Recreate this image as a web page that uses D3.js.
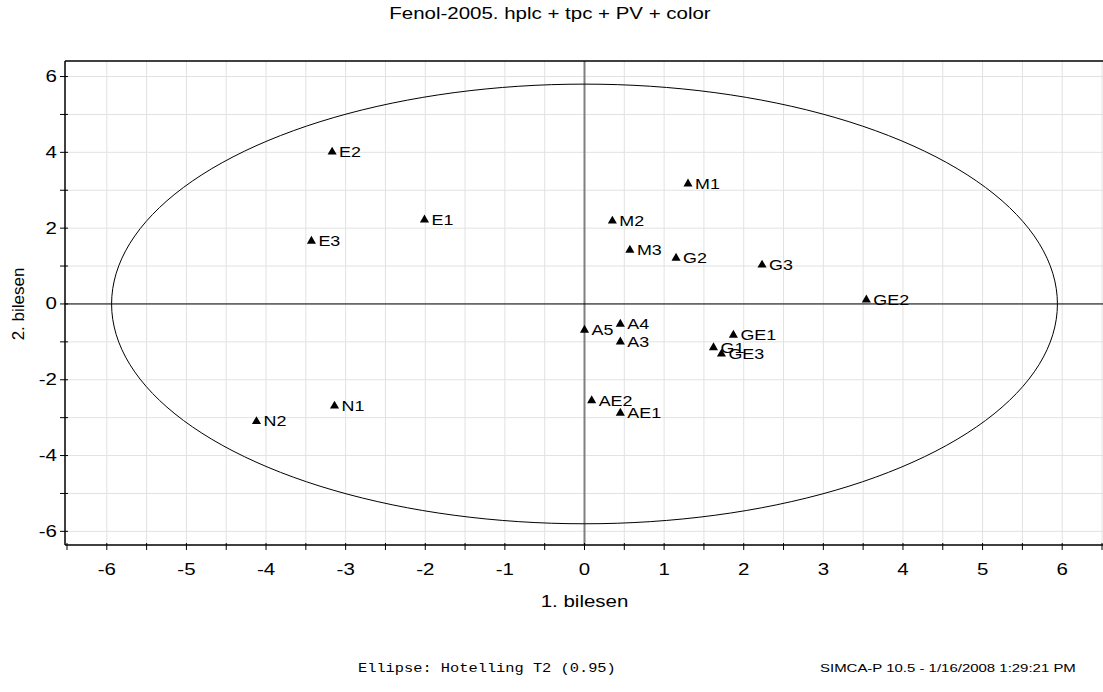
<!DOCTYPE html>
<html>
<head>
<meta charset="utf-8">
<script src="https://cdn.jsdelivr.net/npm/d3@7"></script>
<style>
  body { margin: 0; background: #fff; }
  svg { display: block; font-family: "Liberation Sans", Arial, sans-serif; }
</style>
</head>
<body>
<svg id="score"></svg>
<script>
// observation names and score values (t1, t2)
const names = ["E2", "E1", "E3", "M1", "M2", "M3", "G2", "G3", "GE2",
               "A5", "A4", "A3", "GE1", "G1", "GE3", "AE2", "AE1", "N1", "N2"];
const t1 = [-3.17, -2.01, -3.43, 1.30, 0.35, 0.57, 1.15, 2.23, 3.54,
            0.00, 0.45, 0.45, 1.87, 1.62, 1.72, 0.09, 0.45, -3.14, -4.12];
const t2 = [4.01, 2.22, 1.66, 3.17, 2.19, 1.42, 1.21, 1.03, 0.11,
            -0.69, -0.53, -1.00, -0.82, -1.15, -1.32, -2.55, -2.88, -2.69, -3.10];

const xTickLabels = [-6, -5, -4, -3, -2, -1, 0, 1, 2, 3, 4, 5, 6];
const yTickLabels = [-6, -4, -2, 0, 2, 4, 6];

// Hotelling T2 (0.95) ellipse semi axes
const ellipseA = 5.94;
const ellipseB = 5.80;

const width = 1103, height = 692;
const sx = 1.28; // the original export is stretched sideways
const svg = d3.select("#score").attr("width", width).attr("height", height);

const x = d3.scaleLinear().domain([-6.5, 6.5]).range([67, 1102]);
const y = d3.scaleLinear().domain([-6.36, 6.41]).range([545, 61]);
const axisX = 65, topY = 61, bottomY = 545;

function label(g, px, py, txt, size, anchor) {
  return g.append("text")
    .attr("transform", `translate(${px},${py}) scale(${sx},1)`)
    .attr("text-anchor", anchor || "start")
    .attr("font-size", size)
    .text(txt);
}

// grid
const grid = svg.append("g");
grid.selectAll("line.vx")
  .data(d3.range(-12, 14).map(d => d / 2))
  .enter().append("line")
  .attr("x1", d => x(d)).attr("x2", d => x(d))
  .attr("y1", topY).attr("y2", bottomY)
  .attr("stroke", "#e2e2e2").attr("stroke-width", 1);
grid.selectAll("line.hy")
  .data(d3.range(-6, 7))
  .enter().append("line")
  .attr("x1", axisX).attr("x2", width)
  .attr("y1", d => y(d)).attr("y2", d => y(d))
  .attr("stroke", "#e2e2e2").attr("stroke-width", 1);

// zero lines
svg.append("line")
  .attr("x1", x(0)).attr("x2", x(0)).attr("y1", topY).attr("y2", bottomY)
  .attr("stroke", "#808080").attr("stroke-width", 2);
svg.append("line")
  .attr("x1", axisX).attr("x2", width).attr("y1", y(0)).attr("y2", y(0))
  .attr("stroke", "#000").attr("stroke-width", 1);

// ellipse
const ell = d3.range(0, 361, 2).map(a => {
  const r = a * Math.PI / 180;
  return [ellipseA * Math.cos(r), ellipseB * Math.sin(r)];
});
svg.append("path")
  .datum(ell)
  .attr("fill", "none")
  .attr("stroke", "#000")
  .attr("stroke-width", 1)
  .attr("d", d3.line().x(d => x(d[0])).y(d => y(d[1])));

// frame: left axis + top line + bottom axis
svg.append("line").attr("x1", axisX).attr("x2", axisX).attr("y1", topY).attr("y2", bottomY)
  .attr("stroke", "#000").attr("stroke-width", 1.5);
svg.append("line").attr("x1", axisX).attr("x2", width).attr("y1", topY).attr("y2", topY)
  .attr("stroke", "#000").attr("stroke-width", 1.5);
svg.append("line").attr("x1", axisX).attr("x2", width).attr("y1", bottomY).attr("y2", bottomY)
  .attr("stroke", "#000").attr("stroke-width", 1.5);

// x ticks (every 0.5) and labels
svg.selectAll("line.xt")
  .data(d3.range(-13, 14).map(d => d / 2))
  .enter().append("line")
  .attr("x1", d => x(d)).attr("x2", d => x(d))
  .attr("y1", bottomY - 2).attr("y2", bottomY + 5)
  .attr("stroke", "#000");
xTickLabels.forEach(d => label(svg, x(d), 575, d, 16, "middle"));

// y ticks (every 1) and labels
svg.selectAll("line.yt")
  .data(d3.range(-6, 7))
  .enter().append("line")
  .attr("x1", axisX - 5).attr("x2", axisX + 3)
  .attr("y1", d => y(d)).attr("y2", d => y(d))
  .attr("stroke", "#000");
yTickLabels.forEach(d => label(svg, 57, y(d) + 5.5, d, 16, "end"));

// points
const pts = names.map((n, i) => ({ name: n, t1: t1[i], t2: t2[i] }));
svg.selectAll("path.pt")
  .data(pts)
  .enter().append("path")
  .attr("transform", d => `translate(${x(d.t1)},${y(d.t2)})`)
  .attr("d", d3.symbol(d3.symbolTriangle, 36))
  .attr("fill", "#000");
pts.forEach(d => label(svg, x(d.t1) + 7, y(d.t2) + 5, d.name, 14));

// titles
label(svg, 550, 19, "Fenol-2005. hplc + tpc + PV + color", 16, "middle");
svg.append("text")
  .attr("transform", `translate(24,${y(0)}) rotate(-90)`)
  .attr("text-anchor", "middle")
  .attr("font-size", 17)
  .text("2. bilesen");
label(svg, x(0), 607, "1. bilesen", 16, "middle");

// footer
label(svg, 358, 672, "Ellipse: Hotelling T2 (0.95)", 12)
  .attr("font-family", "'Liberation Mono', 'Courier New', monospace");
label(svg, 820, 672, "SIMCA-P 10.5 - 1/16/2008 1:29:21 PM", 11.7);
</script>
</body>
</html>
